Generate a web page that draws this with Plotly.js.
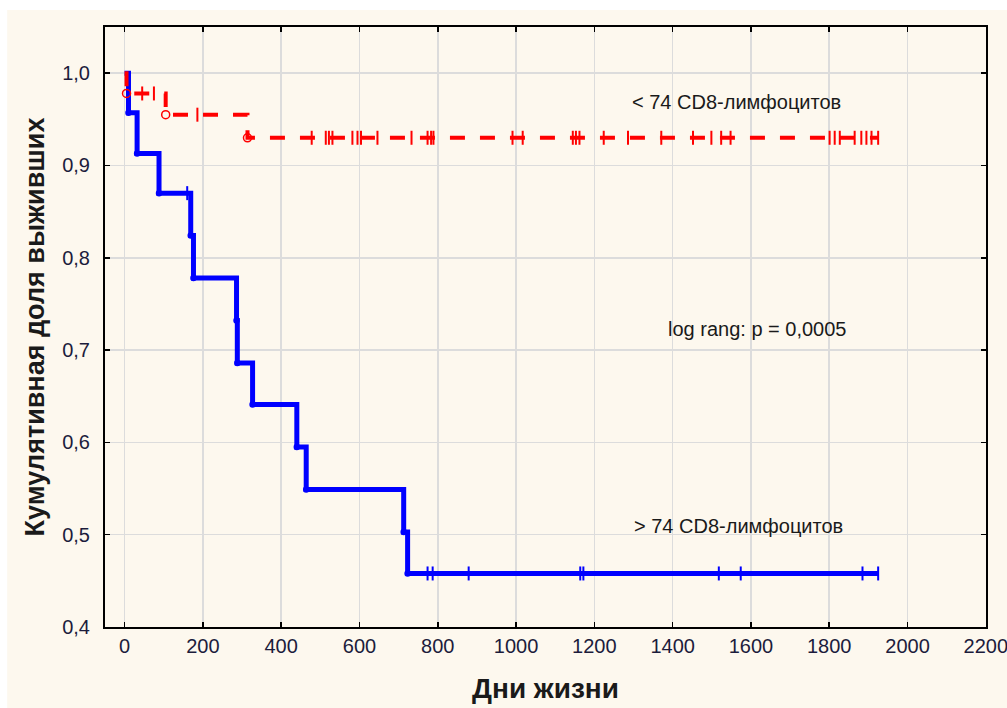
<!DOCTYPE html>
<html>
<head>
<meta charset="utf-8">
<script src="https://cdn.plot.ly/plotly-3.0.1.min.js"></script>
<style>html,body{margin:0;padding:0;background:#fff;}#chart{width:1007px;height:708px;}</style>
</head>
<body>
<div id="chart"></div>
<script>
// Group "> 74 CD8-лимфоцитов" (blue): step points (time, survival)
const blueTimes = [0, 10, 32, 88, 169, 176, 286, 288, 327, 440, 464, 713, 723, 1925];
const blueSurv  = [1.0, 0.957, 0.913, 0.870, 0.824, 0.778, 0.732, 0.686, 0.641, 0.595, 0.549, 0.503, 0.458, 0.458];
const blueCensored = [160, 774, 787, 879, 1164, 1172, 1518, 1574, 1885, 1925];

// Group "< 74 CD8-лимфоцитов" (red)
const redTimes = [0, 5, 105, 314, 1925];
const redSurv  = [1.0, 0.978, 0.955, 0.930, 0.930];
const redCensored = [45, 75, 186, 478, 514, 522, 531, 582, 595, 604, 646, 733, 774, 783, 789,
  991, 1017, 1145, 1153, 1162, 1224, 1286, 1371, 1452, 1499, 1524, 1548,
  1801, 1814, 1827, 1865, 1882, 1895, 1908, 1925];

const xTickVals = [0, 200, 400, 600, 800, 1000, 1200, 1400, 1600, 1800, 2000, 2200];

const labelRed = "< 74 CD8-лимфоцитов";
const labelBlue = "> 74 CD8-лимфоцитов";
const labelTest = "log rang: p = 0,0005";
const xTitle = "Дни жизни";
const yTitle = "Кумулятивная доля выживших";

function stepAt(times, surv, t) {
  let v = surv[0];
  for (let i = 0; i < times.length; i++) { if (times[i] <= t) v = surv[i]; }
  return v;
}

const BLUE = '#0000ff', RED = '#ff0000';
const FAM = 'Liberation Sans, Arial, sans-serif';

const traces = [
  { x: blueTimes, y: blueSurv, mode: 'lines', line: {shape: 'hv', color: BLUE, width: 5}, hoverinfo: 'skip' },
  { x: blueTimes.slice(1, -1), y: blueSurv.slice(1, -1), mode: 'markers',
    marker: {symbol: 'circle-open', size: 5, color: BLUE, line: {width: 1.5, color: BLUE}}, hoverinfo: 'skip' },
  { x: blueCensored, y: blueCensored.map(t => stepAt(blueTimes, blueSurv, t)), mode: 'markers',
    marker: {symbol: 'line-ns-open', size: 10, color: BLUE, line: {width: 2, color: BLUE}}, hoverinfo: 'skip' },
  { x: redTimes, y: redSurv, mode: 'lines', line: {shape: 'hv', color: RED, width: 4, dash: '15px,15px'}, hoverinfo: 'skip' },
  { x: redTimes.slice(1, -1), y: redSurv.slice(1, -1), mode: 'markers',
    marker: {symbol: 'circle-open', size: 8, color: RED, line: {width: 1.5, color: RED}}, hoverinfo: 'skip' },
  { x: redCensored, y: redCensored.map(t => stepAt(redTimes, redSurv, t)), mode: 'markers',
    marker: {symbol: 'line-ns-open', size: 10, color: RED, line: {width: 2, color: RED}}, hoverinfo: 'skip' }
];

const tickFont = {family: FAM, size: 20, color: '#1c1c3c'};
const layout = {
  width: 1007, height: 708,
  margin: {l: 105, r: 21, t: 27, b: 81},
  paper_bgcolor: '#ffffff', plot_bgcolor: '#ffffff',
  showlegend: false,
  separators: ', ',
  xaxis: {
    range: [-50, 2200.5], tickvals: xTickVals,
    showgrid: true, gridcolor: '#dcdcdc', gridwidth: 1.5, zeroline: false,
    showline: true, linecolor: '#000', linewidth: 2, mirror: 'ticks',
    ticks: 'inside', ticklen: 5, tickcolor: '#000', tickwidth: 1.5,
    ticklabeloverflow: 'allow',
    tickfont: tickFont,
    title: {text: xTitle, font: {family: FAM, size: 28, color: '#1a1a1a', weight: 'bold'}, standoff: 22}
  },
  yaxis: {
    range: [0.4, 1.05], dtick: 0.1, tick0: 0.4, tickformat: '.1f',
    showgrid: true, gridcolor: '#dcdcdc', gridwidth: 1.5, zeroline: false,
    showline: true, linecolor: '#000', linewidth: 2, mirror: 'ticks',
    ticks: 'inside', ticklen: 5, tickcolor: '#000', tickwidth: 1.5,
    ticklabelstandoff: 9,
    tickfont: tickFont,
    title: {text: yTitle, font: {family: FAM, size: 27, color: '#1a1a1a', weight: 'bold'}, standoff: 10}
  },
  shapes: [
    {type: 'rect', xref: 'paper', yref: 'paper', x0: -0.111, x1: 1.1, y0: -0.2, y1: 1.0283,
     fillcolor: '#fdf8ee', line: {width: 0}, layer: 'below'}
  ],
  annotations: [
    {x: 1292, y: 0.9686, xref: 'x', yref: 'y', text: labelRed, showarrow: false, xanchor: 'left', yanchor: 'middle',
     font: {family: FAM, size: 20, color: '#1a1a1a'}},
    {x: 1384, y: 0.7227, xref: 'x', yref: 'y', text: labelTest, showarrow: false, xanchor: 'left', yanchor: 'middle',
     font: {family: FAM, size: 20, color: '#1a1a1a'}},
    {x: 1297, y: 0.509, xref: 'x', yref: 'y', text: labelBlue, showarrow: false, xanchor: 'left', yanchor: 'middle',
     font: {family: FAM, size: 20, color: '#1a1a1a'}}
  ]
};

Plotly.newPlot('chart', traces, layout, {staticPlot: true, displayModeBar: false});
</script>
</body>
</html>
